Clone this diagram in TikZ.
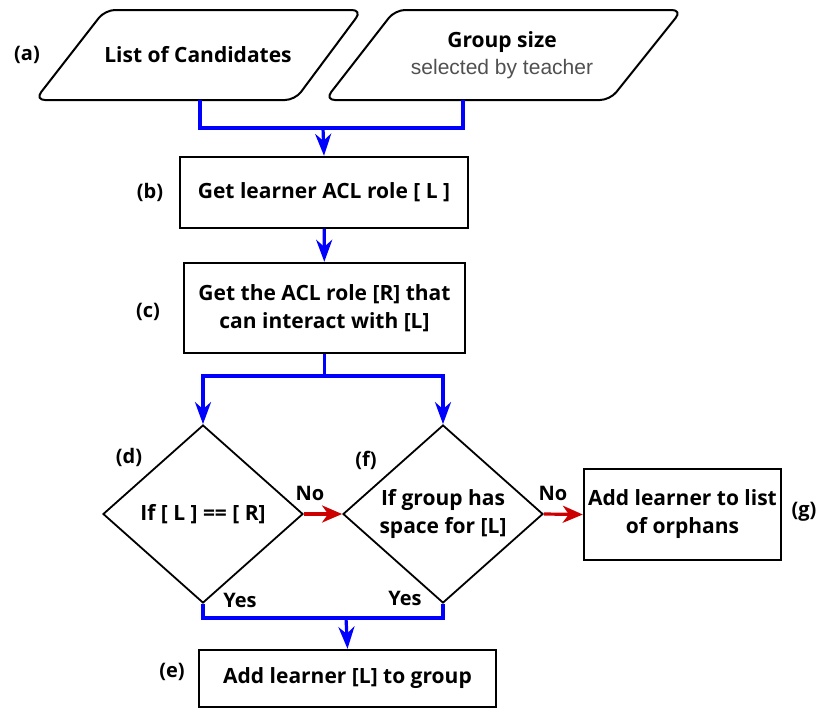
\documentclass[tikz,border=0pt]{standalone}
\usepackage{fontspec}
\setmainfont{Open Sans}
\newfontfamily\subfont{Liberation Sans}
\usetikzlibrary{arrows.meta,shapes.geometric}
\definecolor{flowblue}{RGB}{0,0,255}
\definecolor{flowred}{RGB}{204,0,0}
\definecolor{subgray}{RGB}{80,80,80}

\begin{document}
\begin{tikzpicture}[x=1pt,y=-1pt,
  every node/.style={font=\fontsize{21}{28}\selectfont\bfseries},
  box/.style={draw, line width=2.4pt, inner sep=0pt, align=center},
  decision/.style={draw, diamond, line width=1.8pt, inner sep=0pt, align=center,
    minimum width=200pt, minimum height=178pt},
  io/.style={line width=2pt, rounded corners=10pt},
  blueflow/.style={draw=flowblue, line width=3.2pt},
  bluearrow/.style={blueflow, -{Stealth[length=22pt,width=16pt,inset=7pt]}},
  redarrow/.style={draw=flowred, line width=3.2pt, -{Stealth[length=20pt,width=17pt,inset=6pt]}},
  tag/.style={font=\fontsize{20}{24}\selectfont\bfseries},
  answer/.style={font=\fontsize{20}{24}\selectfont\bfseries}
]
\useasboundingbox (0,0) rectangle (818,710);

% inputs
\draw[io] (105,10) -- (362,10) -- (295,100) -- (35,100) -- cycle;
\node (cand) at (198,55) {List of Candidates};
\coordinate (candout) at (200,100);
\draw[io] (395,10) -- (682,10) -- (610,100) -- (325,100) -- cycle;
\node (gsize) at (502,42) {Group size};
\node[font=\subfont\fontsize{21}{24}\selectfont, text=subgray] (gsel) at (502,69) {selected by teacher};
\coordinate (sizeout) at (463,100);
\coordinate (join) at (323,128);

% process boxes
\node[box, minimum width=288pt, minimum height=71pt] (getL) at (324,192.5) {Get learner ACL role [ L ]};
\node[box, minimum width=281pt, minimum height=90pt] (getR) at (324.5,308) {Get the ACL role [R] that\\can interact with [L]};
\coordinate (fork) at (324.5,376);

% decisions
\node[decision] (cmp) at (203,514) {If [ L ] == [ R]};
\node[decision] (space) at (443,514) {If group has\\space for [L]};
\node[box, minimum width=197pt, minimum height=91pt] (orphan) at (682.5,514.5) {Add learner to list\\of orphans};
\coordinate (merge) at (346,618);
\node[box, minimum width=297pt, minimum height=57pt] (add) at (347.5,678.5) {Add learner [L] to group};

% step tags
\node[tag] (ta) at (27,55) {(a)};
\node[tag] (tb) at (150,192) {(b)};
\node[tag] (tc) at (148,312) {(c)};
\node[tag] (td) at (129,457) {(d)};
\node[tag] (tf) at (366,460) {(f)};
\node[tag] (tg) at (804,512) {(g)};
\node[tag] (te) at (172,672) {(e)};

% connectors
\draw[blueflow] (candout) |- (sizeout |- join) -- (sizeout);
\draw[bluearrow] (join) -- (getL.north);
\draw[bluearrow] (getL) -- (getR);
\draw[blueflow] (getR.south) -- (fork);
\draw[bluearrow] (fork) -| (cmp.north);
\draw[bluearrow] (fork) -| (space.north);
\draw[redarrow] (cmp.east) -- (space.west);
\draw[redarrow] (space.east) -- (orphan.west);
\draw[blueflow] (cmp.south) |- (space.south |- merge) -- (space.south);
\draw[bluearrow] (merge) -- (add.north);

% answers
\node[answer] (no1) at (310,493) {No};
\node[answer] (no2) at (553,493) {No};
\node[answer] (yes1) at (240,600) {Yes};
\node[answer] (yes2) at (405,598) {Yes};
\end{tikzpicture}
\end{document}
